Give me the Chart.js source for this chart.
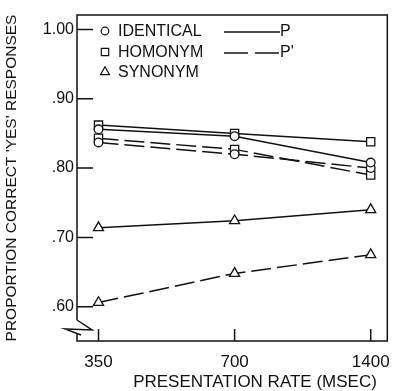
<!DOCTYPE html>
<html><head><meta charset="utf-8">
<script src="https://cdn.jsdelivr.net/npm/chart.js@4"></script>
<style>html,body{margin:0;padding:0;background:#fff}#wrap{width:401px;height:391px;position:relative}</style>
</head><body><div id="wrap"><canvas id="c" width="401" height="391"></canvas></div>
<script>
// ---- data ----
const categories = ['350', '700', '1400'];
const yTickValues = [0.60, 0.70, 0.80, 0.90, 1.00];
const yTickLabels = ['.60', '.70', '.80', '.90', '1.00'];
const identicalP  = [0.856, 0.846, 0.808];
const identicalP2 = [0.837, 0.820, 0.800];
const homonymP    = [0.862, 0.850, 0.838];
const homonymP2   = [0.843, 0.827, 0.790];
const synonymP    = [0.714, 0.724, 0.740];
const synonymP2   = [0.606, 0.648, 0.675];
const seriesNames = ['IDENTICAL', 'HOMONYM', 'SYNONYM'];
const lineNames = ['P', "P'"];
const xTitle = 'PRESENTATION RATE (MSEC)';
const yTitle = "PROPORTION CORRECT 'YES' RESPONSES";

const FONT = "'Liberation Sans', Arial, sans-serif";
const INK = '#111';
const DASH = [20, 6];

function pts(arr){ return arr.map((v, i) => ({x: i, y: v})); }
function ds(label, arr, style, dashed){
  return {
    label, data: pts(arr), borderColor: INK, borderWidth: 1.5,
    borderDash: dashed ? DASH : [], tension: 0, fill: false,
    pointStyle: style, pointRadius: style === 'circle' ? 4.3 : 5.8,
    pointBackgroundColor: '#fff', pointBorderColor: INK, pointBorderWidth: 1.3,
    pointHoverRadius: 0
  };
}

const decor = {
  id: 'decor',
  beforeDatasetsDraw(chart){
    const {ctx, chartArea: a, scales} = chart;
    ctx.save();
    ctx.strokeStyle = INK; ctx.lineWidth = 1.5; ctx.lineCap = 'butt';
    // frame (top, right, bottom, and left with break)
    ctx.beginPath();
    ctx.moveTo(a.left, a.bottom - 8); ctx.lineTo(a.left, a.bottom);
    ctx.lineTo(a.right, a.bottom); ctx.lineTo(a.right, a.top);
    ctx.lineTo(a.left, a.top); ctx.lineTo(a.left, a.bottom - 21);
    ctx.stroke();
    // break symbol
    ctx.beginPath();
    ctx.moveTo(a.left, a.bottom - 21);
    ctx.lineTo(a.left + 15, a.bottom - 11);
    ctx.lineTo(a.left - 12, a.bottom - 12);
    ctx.lineTo(a.left + 4, a.bottom - 6);
    ctx.stroke();
    // inner ticks
    const ys = scales.y, xs = scales.x;
    ctx.beginPath();
    yTickValues.forEach(v => { const p = ys.getPixelForValue(v); ctx.moveTo(a.left, p); ctx.lineTo(a.left + 16, p); });
    categories.forEach((c, i) => { const p = xs.getPixelForValue(i); ctx.moveTo(p, a.bottom); ctx.lineTo(p, a.bottom - 12); });
    ctx.stroke();
    ctx.restore();
  },
  afterDraw(chart){
    const {ctx} = chart;
    ctx.save();
    ctx.fillStyle = INK; ctx.strokeStyle = INK;
    // x title
    ctx.font = '17px ' + FONT; ctx.textAlign = 'center'; ctx.textBaseline = 'alphabetic';
    ctx.fillText(xTitle, 255, 387);
    // legend
    const styles = ['circle', 'rect', 'triangle'];
    const rowY = [31, 52, 72];
    ctx.font = '16px ' + FONT; ctx.textAlign = 'left'; ctx.textBaseline = 'middle';
    seriesNames.forEach((n, i) => {
      ctx.lineWidth = 1.2; ctx.fillStyle = '#fff';
      Chart.helpers.drawPoint(ctx, {pointStyle: styles[i], radius: i === 0 ? 3.8 : 5.2, borderWidth: 1.2}, 105, rowY[i]);
      ctx.fillStyle = INK;
      ctx.fillText(n, 118, rowY[i] + 1);
    });
    ctx.lineWidth = 1.5;
    ctx.beginPath(); ctx.setLineDash([]); ctx.moveTo(224, 32); ctx.lineTo(280, 32); ctx.stroke();
    ctx.beginPath(); ctx.setLineDash([24, 7]); ctx.moveTo(224, 53); ctx.lineTo(280, 53); ctx.stroke();
    ctx.setLineDash([]);
    ctx.fillText(lineNames[0], 280, 32);
    ctx.fillText(lineNames[1], 280, 53);
    ctx.restore();
  }
};

new Chart(document.getElementById('c'), {
  type: 'line',
  data: {
    datasets: [
      ds('IDENTICAL P', identicalP, 'circle', false),
      ds('HOMONYM P', homonymP, 'rect', false),
      ds("IDENTICAL P'", identicalP2, 'circle', true),
      ds("HOMONYM P'", homonymP2, 'rect', true),
      ds('SYNONYM P', synonymP, 'triangle', false),
      ds("SYNONYM P'", synonymP2, 'triangle', true)
    ]
  },
  options: {
    responsive: false, animation: false, devicePixelRatio: 1,
    layout: {padding: {top: 15, right: 6, left: 0, bottom: 0}},
    plugins: {legend: {display: false}, tooltip: {enabled: false}},
    events: [],
    scales: {
      x: {
        type: 'linear', min: -0.158, max: 2.122,
        grid: {display: false, drawTicks: false}, border: {display: false},
        afterBuildTicks: s => { s.ticks = categories.map((c, i) => ({value: i})); },
        afterFit: s => { s.height = 50; },
        ticks: {callback: v => categories[v], color: INK, font: {family: FONT, size: 17}, padding: 11, maxRotation: 0, autoSkip: false}
      },
      y: {
        type: 'linear', min: 0.5505, max: 1.0209,
        grid: {display: false, drawTicks: false}, border: {display: false},
        afterBuildTicks: s => { s.ticks = yTickValues.map(v => ({value: v})); },
        afterFit: s => { s.width = 77; },
        ticks: {callback: v => yTickLabels[yTickValues.indexOf(v)], color: INK, font: {family: FONT, size: 16}, padding: 3},
        title: {display: true, text: yTitle, color: INK, font: {family: FONT, size: 15.5}, padding: {top: 2, bottom: 0}}
      }
    }
  },
  plugins: [decor]
});
</script>
</body></html>
